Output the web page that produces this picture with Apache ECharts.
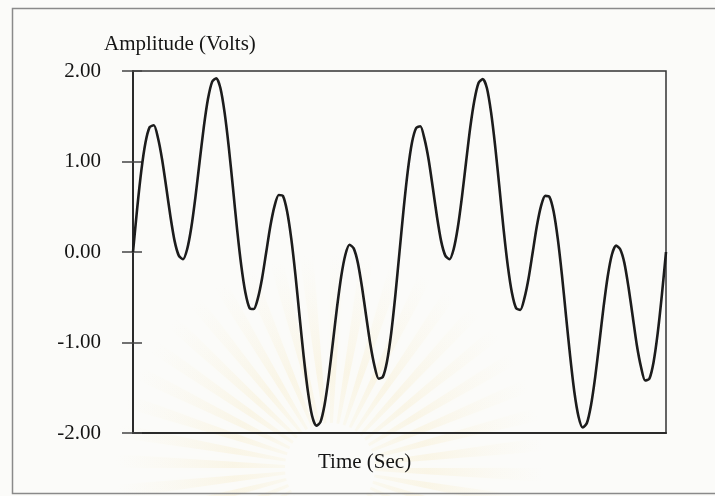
<!DOCTYPE html>
<html>
<head>
<meta charset="utf-8">
<script src="https://cdn.jsdelivr.net/npm/echarts@6/dist/echarts.min.js"></script>
<style>
  html, body { margin: 0; padding: 0; background: #fbfbf9; }
  #chart { width: 715px; height: 496px; }
</style>
</head>
<body>
<div id="chart"></div>
<script>
const voltsFirstSecond = [
  0.00, 0.48, 0.90, 1.21, 1.38, 1.40, 1.26, 1.02, 0.71, 0.39, 0.12, -0.04, -0.08, 0.03, 0.27, 0.61,
  1.00, 1.38, 1.69, 1.88, 1.92, 1.81, 1.54, 1.16, 0.71, 0.25, -0.15, -0.45, -0.62, -0.63, -0.51, -0.29,
  0.00, 0.29, 0.51, 0.63, 0.62, 0.45, 0.15, -0.25, -0.71, -1.16, -1.54, -1.81, -1.92, -1.88, -1.69, -1.38,
  -1.00, -0.61, -0.27, -0.03, 0.08, 0.04, -0.12, -0.39, -0.71, -1.02, -1.26, -1.40, -1.38, -1.21, -0.90, -0.48,
  0.00
];
const voltsSecondSecond = [
  0.48, 0.90, 1.21, 1.37, 1.39, 1.25, 1.02, 0.71, 0.39, 0.12, -0.04, -0.08, 0.03, 0.27, 0.61,
  1.00, 1.38, 1.68, 1.87, 1.91, 1.81, 1.54, 1.16, 0.71, 0.25, -0.15, -0.45, -0.62, -0.64, -0.51, -0.29,
  0.00, 0.29, 0.51, 0.62, 0.61, 0.45, 0.15, -0.25, -0.71, -1.16, -1.55, -1.82, -1.94, -1.89, -1.69, -1.38,
  -1.00, -0.61, -0.27, -0.03, 0.07, 0.03, -0.12, -0.39, -0.71, -1.03, -1.27, -1.42, -1.40, -1.22, -0.90, -0.48,
  0.00
];
const sampleStepSec = 1 / 64;
const yTickValues = [-2, -1, 0, 1, 2];
const yAxisTitle = 'Amplitude (Volts)';
const xAxisTitle = 'Time (Sec)';

const volts = voltsFirstSecond.concat(voltsSecondSecond);
const seriesData = volts.map((v, i) => [i * sampleStepSec, v]);

const serif = '"Liberation Serif", "DejaVu Serif", serif';
const chart = echarts.init(document.getElementById('chart'), null, { renderer: 'canvas' });

// faint sunburst watermark of the scanned page (decoration only)
const rays = [];
const rayCount = 44;
for (let i = 0; i < rayCount; i++) {
  const a0 = (i / rayCount) * Math.PI * 2;
  rays.push({
    type: 'sector', z: -20, silent: true,
    shape: { cx: 330, cy: 468, r0: 45, r: 215, startAngle: a0, endAngle: a0 + Math.PI / rayCount * 0.9 },
    style: {
      shadowBlur: 6, shadowColor: 'rgba(245,228,175,0.25)',
      fill: new echarts.graphic.RadialGradient(330, 468, 215, [
        { offset: 0, color: 'rgba(246,228,170,0.05)' },
        { offset: 0.45, color: 'rgba(244,226,165,0.20)' },
        { offset: 1, color: 'rgba(248,238,205,0)' }
      ], true)
    }
  });
}

chart.setOption({
  backgroundColor: '#fbfbf9',
  animation: false,
  graphic: rays.concat([
    {
      type: 'polyline', z: 5, silent: true,
      shape: { points: [[716, 8.5], [12.5, 8.5], [12.5, 493.5], [716, 493.5]] },
      style: { stroke: '#8a8a8a', lineWidth: 1.5, fill: null }
    },
    {
      type: 'text', left: 104, top: 34, z: 10,
      style: { text: yAxisTitle, font: '21px ' + serif, fill: '#151515' }
    },
    {
      type: 'text', left: 318, top: 452, z: 10,
      style: { text: xAxisTitle, font: '21px ' + serif, fill: '#151515' }
    }
  ]),
  grid: {
    left: 133, top: 71, right: 49, bottom: 63,
    show: true, borderColor: '#333', borderWidth: 1.5,
    backgroundColor: 'transparent'
  },
  xAxis: {
    type: 'value', min: 0, max: 2,
    axisLine: { show: true, onZero: false, lineStyle: { color: '#2a2a2a', width: 2 } },
    axisTick: { show: false },
    axisLabel: { show: false },
    splitLine: { show: false }
  },
  yAxis: [
    {
      type: 'value', min: -2, max: 2, interval: 1,
      axisLine: { show: true, lineStyle: { color: '#2a2a2a', width: 2 } },
      axisTick: { show: true, length: 11, lineStyle: { color: '#444', width: 1.5 } },
      axisLabel: {
        margin: 32, color: '#151515', fontFamily: serif, fontSize: 21,
        formatter: v => (yTickValues.includes(v) ? v.toFixed(2) : '')
      },
      splitLine: { show: false }
    },
    {
      type: 'value', min: -2, max: 2, interval: 1, position: 'left',
      axisLine: { show: false },
      axisTick: { show: true, inside: true, length: 9, lineStyle: { color: '#444', width: 1.5 } },
      axisLabel: { show: false },
      splitLine: { show: false }
    }
  ],
  series: [{
    type: 'line',
    yAxisIndex: 0,
    data: seriesData,
    smooth: 0.25,
    showSymbol: false,
    lineStyle: { color: '#1c1c1c', width: 2.6, join: 'round' },
    clip: true
  }]
}, true);
</script>
</body>
</html>
